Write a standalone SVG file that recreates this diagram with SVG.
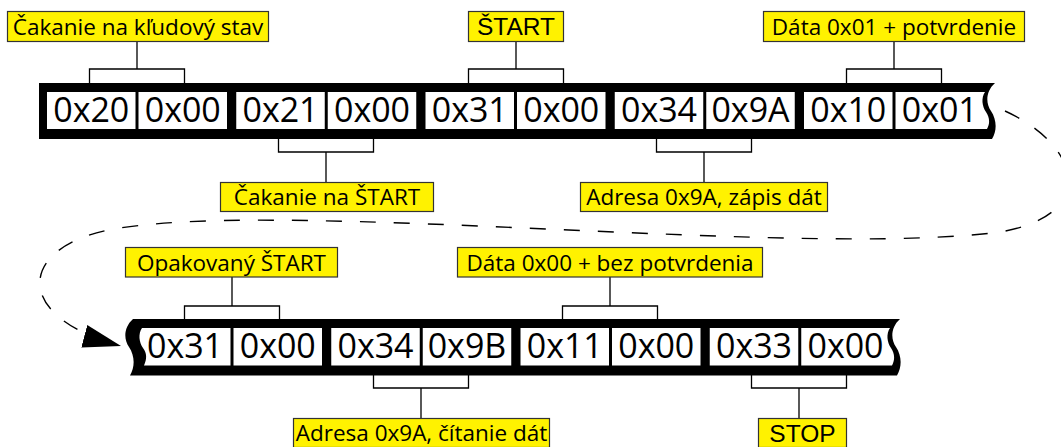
<svg xmlns="http://www.w3.org/2000/svg" width="1061" height="447" viewBox="0 0 1061 447">
<defs>
<style>
.band{fill:#000}
.cell{fill:#fff}
.ct{font-family:"Open Sans","Noto Sans",sans-serif;font-size:34px;fill:#000;text-anchor:middle}
.lb{fill:#fff200;stroke:#333;stroke-width:1.2}
.lt{font-family:"Open Sans","Noto Sans",sans-serif;font-size:22.5px;fill:#000;text-anchor:middle}
.la{font-family:"Liberation Sans",Arial,sans-serif;font-size:24.5px;fill:#000;text-anchor:middle}
.br{fill:none;stroke:#000;stroke-width:1.3}
.dash{fill:none;stroke:#000;stroke-width:1.4;stroke-dasharray:16 18}
</style>
<marker id="arrow" markerUnits="userSpaceOnUse" markerWidth="38" markerHeight="24" viewBox="0 0 36 22" refX="36" refY="11" orient="auto">
<path d="M0 0 L36 11 L0 22 Z" fill="#000"/>
</marker>
</defs>

<g id="connectors">
<path class="br" d="M137 41.5V69 M89.5 83V69H184.5V83"/>
<path class="br" d="M516 41.5V69 M468.5 83V69H563.5V83"/>
<path class="br" d="M894 41.5V69 M846.5 83V69H941.5V83"/>
<path class="br" d="M326 182.5V152 M278.5 139V152H373.5V139"/>
<path class="br" d="M704 182.5V152 M656.5 139V152H751.5V139"/>
<path class="br" d="M232 277V306 M184.5 319V306H279.5V319"/>
<path class="br" d="M610 277V306 M562.5 319V306H657.5V319"/>
<path class="br" d="M421 418.5V388 M373.5 375V388H468.5V375"/>
<path class="br" d="M799 418.5V388 M751.5 375V388H846.5V375"/>
<path class="dash" marker-end="url(#arrow)" d="M1005 111 C1080 145 1100 215 1000 232 C800 258 300 200 120 228 C18 243 8 316 121 346"/>
</g>

<g id="band1">
<path class="band" d="M39 83H995C985 92 986 104 991 111C997 120 997 131 992 139H39Z"/>
<rect class="cell" x="47" y="92" width="88.5" height="37"/>
<rect class="cell" x="138.5" y="92" width="88.5" height="37"/>
<rect class="cell" x="236.25" y="92" width="88.5" height="37"/>
<rect class="cell" x="327.75" y="92" width="88.5" height="37"/>
<rect class="cell" x="425.5" y="92" width="88.5" height="37"/>
<rect class="cell" x="517" y="92" width="88.5" height="37"/>
<rect class="cell" x="614.75" y="92" width="88.5" height="37"/>
<rect class="cell" x="706.25" y="92" width="88.5" height="37"/>
<rect class="cell" x="804" y="92" width="88.5" height="37"/>
<path class="cell" d="M895.5 92H985C981 98 982 106 986 112C990 118 990 124 987 129H895.5Z"/>
<text class="ct" x="91.25" y="122">0x20</text>
<text class="ct" x="182.75" y="122">0x00</text>
<text class="ct" x="280.5" y="122">0x21</text>
<text class="ct" x="372" y="122">0x00</text>
<text class="ct" x="469.75" y="122">0x31</text>
<text class="ct" x="561.25" y="122">0x00</text>
<text class="ct" x="659" y="122">0x34</text>
<text class="ct" x="750.5" y="122">0x9A</text>
<text class="ct" x="848.25" y="122">0x10</text>
<text class="ct" x="939.75" y="122">0x01</text>
</g>

<g id="band2">
<path class="band" d="M133 319H900C890 328 891 340 896 347C902 356 902 367 897 375.5H130C135 367 135 356 129 347C124 340 123 328 133 319Z"/>
<path class="cell" d="M142 328H230.5V365.5H144C147 359 147 353 143 348C139 342 138 334 142 328Z"/>
<rect class="cell" x="233.5" y="328" width="88.5" height="37.5"/>
<rect class="cell" x="331.25" y="328" width="88.5" height="37.5"/>
<rect class="cell" x="422.75" y="328" width="88.5" height="37.5"/>
<rect class="cell" x="520.5" y="328" width="88.5" height="37.5"/>
<rect class="cell" x="612" y="328" width="88.5" height="37.5"/>
<rect class="cell" x="709.75" y="328" width="88.5" height="37.5"/>
<path class="cell" d="M801.25 328H890C886 334 887 342 891 348C895 354 895 360 892 365.5H801.25Z"/>
<text class="ct" x="185" y="358">0x31</text>
<text class="ct" x="277.75" y="358">0x00</text>
<text class="ct" x="375.5" y="358">0x34</text>
<text class="ct" x="467" y="358">0x9B</text>
<text class="ct" x="564.75" y="358">0x11</text>
<text class="ct" x="656.25" y="358">0x00</text>
<text class="ct" x="754" y="358">0x33</text>
<text class="ct" x="845.5" y="358">0x00</text>
</g>

<g id="label-idle">
<rect class="lb" x="7.5" y="11.5" width="261" height="30"/>
<text class="lt" x="138" y="34.5">Čakanie na kľudový stav</text>
</g>
<g id="label-start">
<rect class="lb" x="468.5" y="11.5" width="95" height="30"/>
<text class="la" x="516" y="35">ŠTART</text>
</g>
<g id="label-data01">
<rect class="lb" x="763.5" y="11.5" width="261" height="30"/>
<text class="lt" x="894" y="34.5">Dáta 0x01 + potvrdenie</text>
</g>
<g id="label-waitstart">
<rect class="lb" x="220.5" y="182.5" width="213" height="29"/>
<text class="lt" x="327" y="205">Čakanie na ŠTART</text>
</g>
<g id="label-addrwrite">
<rect class="lb" x="580.5" y="182.5" width="247" height="29"/>
<text class="lt" x="704" y="205">Adresa 0x9A, zápis dát</text>
</g>
<g id="label-restart">
<rect class="lb" x="125.5" y="247.5" width="212" height="29.5"/>
<text class="lt" x="231.5" y="270.5">Opakovaný ŠTART</text>
</g>
<g id="label-data00">
<rect class="lb" x="457.5" y="247.5" width="305" height="29.5"/>
<text class="lt" x="610" y="270.5">Dáta 0x00 + bez potvrdenia</text>
</g>
<g id="label-addrread">
<rect class="lb" x="293.5" y="418.5" width="256" height="29"/>
<text class="lt" x="421.5" y="441">Adresa 0x9A, čítanie dát</text>
</g>
<g id="label-stop">
<rect class="lb" x="758.5" y="418.5" width="88" height="29"/>
<text class="la" x="802.5" y="442">STOP</text>
</g>
</svg>
